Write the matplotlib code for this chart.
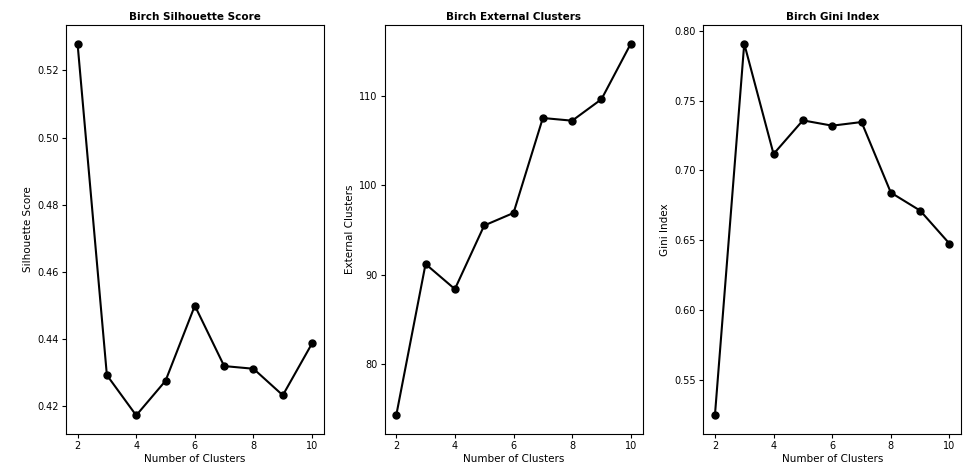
import matplotlib
matplotlib.use("Agg")
import matplotlib.pyplot as plt

n_clusters = [2, 3, 4, 5, 6, 7, 8, 9, 10]
silhouette = [0.528, 0.4292, 0.4172, 0.4275, 0.4499, 0.4319, 0.4311, 0.4232, 0.4387]
external = [74.3, 91.2, 88.4, 95.5, 96.9, 107.5, 107.2, 109.6, 115.8]
gini = [0.5244, 0.7909, 0.7118, 0.7359, 0.7321, 0.7347, 0.6841, 0.6712, 0.6475]

panels = [
    (silhouette, "Birch Silhouette Score", "Silhouette Score"),
    (external, "Birch External Clusters", "External Clusters"),
    (gini, "Birch Gini Index", "Gini Index"),
]

fig, axes = plt.subplots(1, 3, figsize=(9.68, 4.73), dpi=100)
fig.subplots_adjust(left=0.068, right=0.993, top=0.947, bottom=0.0825, wspace=0.235)

for ax, (vals, title, ylabel) in zip(axes, panels):
    ax.plot(n_clusters, vals, "o-", color="black", lw=1.5, markersize=5)
    ax.set_title(title, fontsize=7.5, fontweight="bold", pad=4)
    ax.set_xlabel("Number of Clusters", fontsize=7.5, labelpad=2)
    ax.set_ylabel(ylabel, fontsize=7.5, labelpad=3)
    ax.tick_params(labelsize=7, length=3, pad=2)
    ax.set_xticks([2, 4, 6, 8, 10])

axes[0].set_yticks([0.42, 0.44, 0.46, 0.48, 0.50, 0.52])
axes[1].set_yticks([80, 90, 100, 110])
axes[2].set_yticks([0.55, 0.60, 0.65, 0.70, 0.75, 0.80])

plt.savefig("out.png", dpi=100)
